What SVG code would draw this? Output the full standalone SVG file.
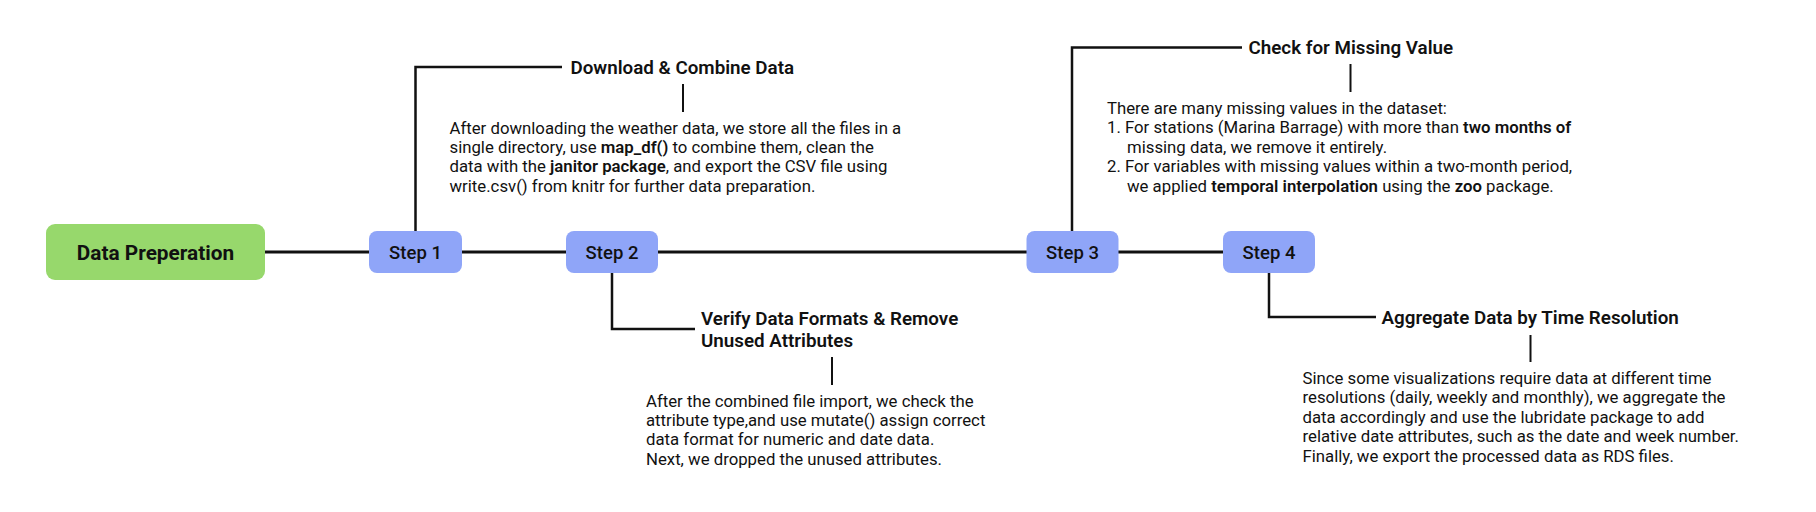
<svg xmlns="http://www.w3.org/2000/svg" width="1816" height="512" viewBox="0 0 1816 512">
<style>
  text { font-family: Roboto, "Liberation Sans", sans-serif; fill: #111; }
  .start { fill: #97D86C; }
  .step { fill: #8FA5F8; }
  .startlabel { font-size: 20.8px; font-weight: 700; text-anchor: middle; }
  .steplabel { font-size: 18.5px; font-weight: 500; text-anchor: middle; }
  .title { font-size: 18.8px; font-weight: 600; }
  .body { font-size: 16.75px; font-weight: 400; }
  .b { font-weight: 600; }
  .main { stroke: #111; stroke-width: 3; fill: none; }
  .conn { stroke: #111; stroke-width: 2.5; fill: none; }
  .tick { stroke: #111; stroke-width: 2; fill: none; }
</style>
<rect width="1816" height="512" fill="#fff"/>
<g id="connectors">
  <line class="main" x1="265" y1="252" x2="369" y2="252"/>
  <line class="main" x1="462" y1="252" x2="566" y2="252"/>
  <line class="main" x1="658" y1="252" x2="1027" y2="252"/>
  <line class="main" x1="1118" y1="252" x2="1223" y2="252"/>
  <polyline class="conn" points="415.5,231 415.5,67 562,67"/>
  <polyline class="conn" points="612,273 612,329 695,329"/>
  <polyline class="conn" points="1072,231 1072,47.5 1242,47.5"/>
  <polyline class="conn" points="1269,273 1269,317 1376,317"/>
  <line class="tick" x1="683" y1="84" x2="683" y2="112"/>
  <line class="tick" x1="832" y1="357" x2="832" y2="385"/>
  <line class="tick" x1="1350.5" y1="64" x2="1350.5" y2="92"/>
  <line class="tick" x1="1530.5" y1="335" x2="1530.5" y2="362"/>
</g>
<g id="data-preperation">
  <rect class="start" x="46" y="224" width="219" height="56" rx="9"/>
  <text class="startlabel" x="155.5" y="259.5">Data Preperation</text>
</g>
<g id="step1">
  <rect class="step" x="369" y="231" width="93" height="42" rx="8"/>
  <text class="steplabel" x="415.5" y="258.7">Step 1</text>
</g>
<g id="step2">
  <rect class="step" x="566" y="231" width="92" height="42" rx="8"/>
  <text class="steplabel" x="612" y="258.7">Step 2</text>
</g>
<g id="step3">
  <rect class="step" x="1026.5" y="231" width="92" height="42" rx="8"/>
  <text class="steplabel" x="1072.5" y="258.7">Step 3</text>
</g>
<g id="step4">
  <rect class="step" x="1223" y="231" width="92" height="42" rx="8"/>
  <text class="steplabel" x="1269" y="258.7">Step 4</text>
</g>
<g id="download-combine">
  <text class="title" x="570.5" y="73.5">Download &amp; Combine Data</text>
  <text class="body">
    <tspan x="449.5" y="133.5">After downloading the weather data, we store all the files in a</tspan>
    <tspan x="449.5" y="152.9">single directory, use <tspan class="b">map_df()</tspan> to combine them, clean the</tspan>
    <tspan x="449.5" y="172.3">data with the <tspan class="b">janitor package</tspan>, and export the CSV file using</tspan>
    <tspan x="449.5" y="191.7">write.csv() from knitr for further data preparation.</tspan>
  </text>
</g>
<g id="verify-formats">
  <text class="title">
    <tspan x="701" y="325">Verify Data Formats &amp; Remove</tspan>
    <tspan x="701" y="346.5">Unused Attributes</tspan>
  </text>
  <text class="body">
    <tspan x="646" y="406.5">After the combined file import, we check the</tspan>
    <tspan x="646" y="425.9">attribute type,and use mutate() assign correct</tspan>
    <tspan x="646" y="445.3">data format for numeric and date data.</tspan>
    <tspan x="646" y="464.7">Next, we dropped the unused attributes.</tspan>
  </text>
</g>
<g id="check-missing">
  <text class="title" x="1248.5" y="53.5">Check for Missing Value</text>
  <text class="body">
    <tspan x="1107" y="114">There are many missing values in the dataset:</tspan>
    <tspan x="1107" y="133.4">1. For stations (Marina Barrage) with more than <tspan class="b">two months of</tspan></tspan>
    <tspan x="1127" y="152.8">missing data, we remove it entirely.</tspan>
    <tspan x="1107" y="172.2">2. For variables with missing values within a two-month period,</tspan>
    <tspan x="1127" y="191.6">we applied <tspan class="b">temporal interpolation</tspan> using the <tspan class="b">zoo</tspan> package.</tspan>
  </text>
</g>
<g id="aggregate-data">
  <text class="title" x="1381.5" y="324">Aggregate Data by Time Resolution</text>
  <text class="body">
    <tspan x="1302.5" y="384">Since some visualizations require data at different time</tspan>
    <tspan x="1302.5" y="403.4">resolutions (daily, weekly and monthly), we aggregate the</tspan>
    <tspan x="1302.5" y="422.8">data accordingly and use the lubridate package to add</tspan>
    <tspan x="1302.5" y="442.2">relative date attributes, such as the date and week number.</tspan>
    <tspan x="1302.5" y="461.6">Finally, we export the processed data as RDS files.</tspan>
  </text>
</g>
</svg>
